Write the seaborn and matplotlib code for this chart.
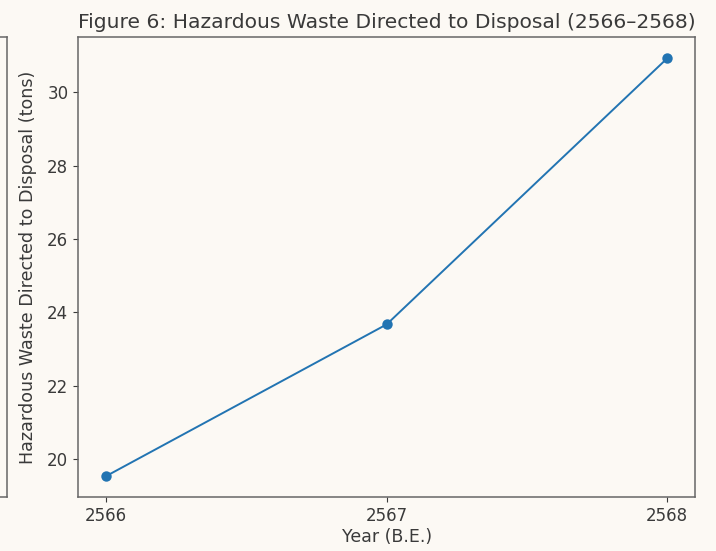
import numpy as np
import pandas as pd
import matplotlib
matplotlib.use("Agg")
import matplotlib.pyplot as plt
import seaborn as sns

years = [2566, 2567, 2568]
waste_tons = [19.53, 23.67, 30.93]

BG = "#fcf9f4"
TXT = "#3a3a3a"

df = pd.DataFrame({"year": years, "waste": waste_tons})

plt.rcParams["font.family"] = ["DejaVu Sans"]
fig = plt.figure(figsize=(7.16, 5.51), dpi=100, facecolor=BG)

# neighbouring panel, mostly cut off at the left edge
ax0 = fig.add_axes([-0.5, 0.098, 0.51, 0.834], facecolor=BG)
ax0.set_xticks([])
ax0.set_yticks([])
for s in ax0.spines.values():
    s.set_color("#666666")
    s.set_linewidth(1.1)

ax = fig.add_axes([0.109, 0.098, 0.862, 0.834], facecolor=BG)
sns.lineplot(data=df, x="year", y="waste", marker="o", markersize=7.5,
             markeredgewidth=0, color="#2274b2", linewidth=1.4, ax=ax)
ax.set_xticks(years)
ax.set_xticklabels([str(y) for y in years])
ax.set_title("Figure 6: Hazardous Waste Directed to Disposal (2566–2568)",
             fontsize=14.6, color=TXT, pad=7)
ax.set_xlabel("Year (B.E.)", fontsize=12.5, color=TXT, labelpad=2)
ax.set_ylabel("Hazardous Waste Directed to Disposal (tons)", fontsize=12.6, color=TXT, labelpad=7)
ax.tick_params(labelsize=12, colors=TXT)
for s in ax.spines.values():
    s.set_color("#666666")
    s.set_linewidth(1.1)

fig.savefig("out.png", dpi=100, facecolor=BG)
